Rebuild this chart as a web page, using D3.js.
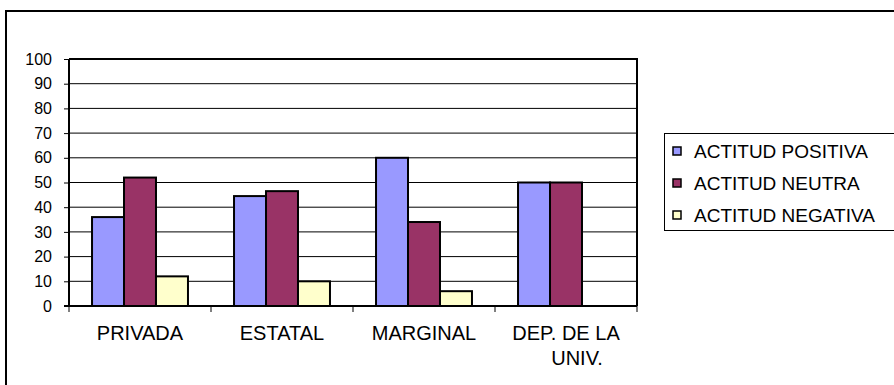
<!DOCTYPE html>
<html>
<head>
<meta charset="utf-8">
<script src="https://cdn.jsdelivr.net/npm/d3@7"></script>
<style>
  html, body { margin: 0; padding: 0; background: #fff; }
  svg { display: block; }
  text { font-family: "Liberation Sans", Arial, sans-serif; fill: #000; }
</style>
</head>
<body>
<svg id="chart" width="894" height="385"></svg>
<script>
// Tipo de institución
const categories = ["PRIVADA", "ESTATAL", "MARGINAL", "DEP. DE LA|UNIV."];
const seriesNames = ["ACTITUD POSITIVA", "ACTITUD NEUTRA", "ACTITUD NEGATIVA"];
const positiva = [36, 44.5, 60, 50];
const neutra = [52, 46.5, 34, 50];
const negativa = [12, 10, 6, 0];
const seriesColors = ["#9999FF", "#993366", "#FFFFCC"];
const yTicks = [0, 10, 20, 30, 40, 50, 60, 70, 80, 90, 100];

const seriesValues = [positiva, neutra, negativa];

const svg = d3.select("#chart");
const W = 894, H = 385;
const plot = { left: 69, right: 637, top: 59, bottom: 306 };

// outer frame (runs off the right and bottom edges)
svg.append("rect")
  .attr("x", 6).attr("y", 11)
  .attr("width", W + 20).attr("height", H + 20)
  .attr("fill", "none").attr("stroke", "#000").attr("stroke-width", 2);

const x = d3.scaleBand().domain(categories).range([plot.left, plot.right]).paddingInner(0).paddingOuter(0);
const xSub = d3.scaleBand().domain(seriesNames).range([0, x.bandwidth()]).paddingInner(0).paddingOuter(0.72);
const y = d3.scaleLinear().domain([0, 100]).range([plot.bottom, plot.top]);

// horizontal gridlines
svg.append("g")
  .selectAll("line")
  .data(yTicks.filter(t => t > 0 && t < 100))
  .join("line")
  .attr("x1", plot.left).attr("x2", plot.right)
  .attr("y1", d => y(d)).attr("y2", d => y(d))
  .attr("stroke", "#000").attr("stroke-width", 1);

// bars
const rows = categories.map((c, i) => ({ cat: c, vals: seriesNames.map((s, j) => ({ s, j, v: seriesValues[j][i] })) }));
const groups = svg.append("g").selectAll("g")
  .data(rows).join("g")
  .attr("transform", d => `translate(${x(d.cat)},0)`);
groups.selectAll("rect")
  .data(d => d.vals.filter(e => e.v > 0))
  .join("rect")
  .attr("x", d => xSub(d.s))
  .attr("width", xSub.bandwidth())
  .attr("y", d => y(d.v))
  .attr("height", d => y(0) - y(d.v))
  .attr("fill", d => seriesColors[d.j])
  .attr("stroke", "#000").attr("stroke-width", 2);

// plot frame: top and right edges
svg.append("path")
  .attr("d", `M${plot.left},${plot.top}H${plot.right}V${plot.bottom}`)
  .attr("fill", "none").attr("stroke", "#000").attr("stroke-width", 2);

// y axis
const yAxis = svg.append("g").attr("transform", `translate(${plot.left},0)`)
  .call(d3.axisLeft(y).tickValues(yTicks).tickSize(5).tickPadding(12).tickFormat(d3.format("d")));
yAxis.select(".domain").attr("stroke", "#000").attr("stroke-width", 2).attr("d", `M0,${plot.top}V${plot.bottom}`);
yAxis.selectAll(".tick line").attr("stroke", "#000");
yAxis.selectAll(".tick text").attr("font-size", 16).attr("font-family", "Liberation Sans, Arial, sans-serif").attr("fill", "#000");

// x axis with boundary ticks between categories
const xAxisG = svg.append("g").attr("transform", `translate(0,${plot.bottom})`);
xAxisG.append("line")
  .attr("x1", plot.left - 5).attr("x2", plot.right)
  .attr("stroke", "#000").attr("stroke-width", 2);
const bounds = categories.map(c => x(c)).concat([plot.right]);
xAxisG.selectAll("line.tk").data(bounds).join("line").attr("class", "tk")
  .attr("x1", d => d).attr("x2", d => d).attr("y1", 0).attr("y2", 6)
  .attr("stroke", "#000").attr("stroke-width", 1);

const catLabels = xAxisG.selectAll("text.cat").data(categories).join("text").attr("class", "cat")
  .attr("x", d => x(d) + x.bandwidth() / 2)
  .attr("y", 34)
  .attr("text-anchor", "middle")
  .attr("font-size", 20);
catLabels.each(function (d) {
  const lines = d.split("|");
  const t = d3.select(this);
  lines.forEach((ln, k) => {
    t.append("tspan")
      .attr("x", x(d) + x.bandwidth() / 2 + (k > 0 ? 11 : 0))
      .attr("dy", k === 0 ? 0 : 25)
      .text(ln);
  });
});

// legend (box runs off the right edge)
const legend = svg.append("g");
legend.append("rect")
  .attr("x", 664.5).attr("y", 133.5)
  .attr("width", 260).attr("height", 97)
  .attr("fill", "#fff").attr("stroke", "#000").attr("stroke-width", 1);
const li = legend.selectAll("g").data(seriesNames).join("g")
  .attr("transform", (d, i) => `translate(0,${151 + i * 32})`);
li.append("rect")
  .attr("x", 673).attr("y", -4)
  .attr("width", 8).attr("height", 8)
  .attr("fill", (d, i) => seriesColors[i])
  .attr("stroke", "#000").attr("stroke-width", 1.5);
li.append("text")
  .attr("x", 694).attr("y", 7)
  .attr("font-size", 19)
  .text(d => d);
</script>
</body>
</html>
